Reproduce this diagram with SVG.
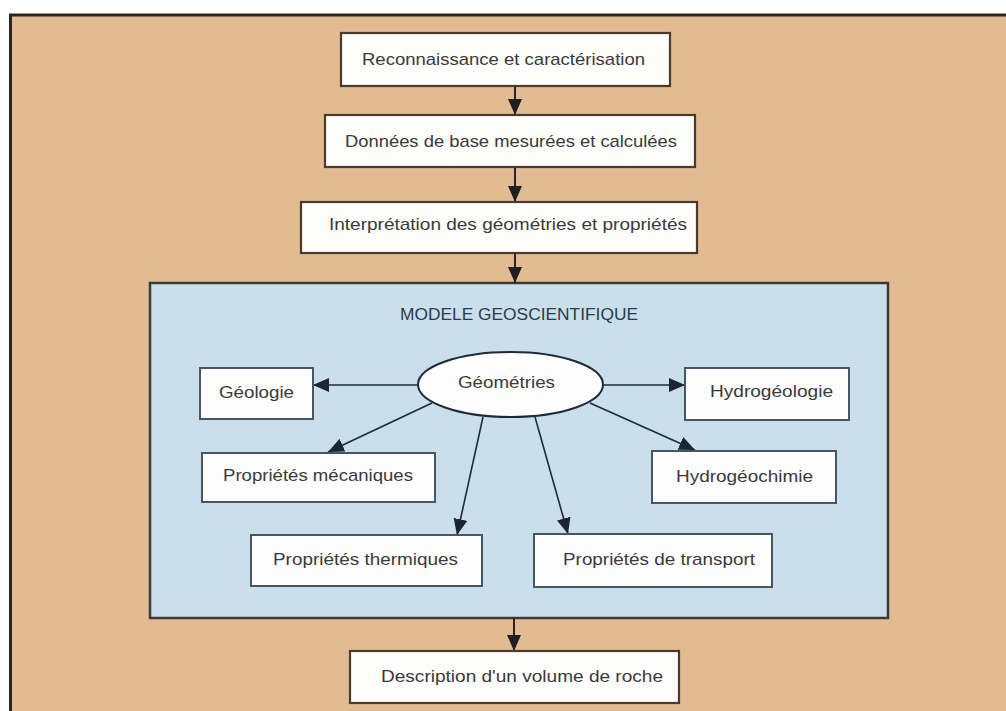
<svg xmlns="http://www.w3.org/2000/svg" width="1006" height="711" viewBox="0 0 1006 711">
<style>
.frame{fill:#e2bb93;stroke:#2b2622;stroke-width:3}
.model{fill:#c9dfec;stroke:#3d3a36;stroke-width:2.5}
.box{fill:#fdfdfc;stroke:#4a3a2e;stroke-width:2.2}
.ibox{fill:#fdfdfd;stroke:#4a5560;stroke-width:2}
.t{font-family:"Liberation Sans",Arial,sans-serif;font-size:17px;fill:#3a3a3a;text-anchor:middle}
.title{font-family:"Liberation Sans",Arial,sans-serif;font-size:16px;fill:#2e3a46;text-anchor:middle}
.c{stroke:#252525;stroke-width:2;fill:none}
.ci{stroke:#1f2a36;stroke-width:1.6;fill:none}
</style>
<defs>
<marker id="ah" markerUnits="userSpaceOnUse" markerWidth="16" markerHeight="14" refX="16" refY="7" orient="auto">
<path d="M0,0 L16,7 L0,14 z" fill="#1f1f1f"/>
</marker>
<marker id="ahi" markerUnits="userSpaceOnUse" markerWidth="16" markerHeight="14" refX="16" refY="7" orient="auto">
<path d="M0,0 L16,7 L0,14 z" fill="#1c2530"/>
</marker>
</defs>
<rect x="0" y="0" width="1006" height="711" fill="#ffffff"/>
<rect class="frame" x="10.5" y="15" width="1010" height="710"/>
<g id="model">
<rect class="model" x="150" y="283" width="738" height="335"/>
<text class="title" x="519" y="320" textLength="238" lengthAdjust="spacingAndGlyphs">MODELE GEOSCIENTIFIQUE</text>
</g>
<g id="connectors">
<line class="c" x1="515" y1="86" x2="515" y2="115" marker-end="url(#ah)"/>
<line class="c" x1="515" y1="167" x2="515" y2="202" marker-end="url(#ah)"/>
<line class="c" x1="515" y1="253" x2="515" y2="283" marker-end="url(#ah)"/>
<line class="c" x1="514" y1="618" x2="514" y2="651" marker-end="url(#ah)"/>
<line class="ci" x1="418" y1="385" x2="313" y2="385" marker-end="url(#ahi)"/>
<line class="ci" x1="603" y1="385" x2="685" y2="385" marker-end="url(#ahi)"/>
<line class="ci" x1="432" y1="403" x2="328" y2="452" marker-end="url(#ahi)"/>
<line class="ci" x1="590" y1="403" x2="695" y2="450" marker-end="url(#ahi)"/>
<line class="ci" x1="483" y1="417" x2="457" y2="535" marker-end="url(#ahi)"/>
<line class="ci" x1="535" y1="417" x2="568" y2="534" marker-end="url(#ahi)"/>
</g>
<g id="reconnaissance">
<rect class="box" x="341" y="33" width="329" height="53"/>
<text class="t" x="503.5" y="65" textLength="283" lengthAdjust="spacingAndGlyphs">Reconnaissance et caractérisation</text>
</g>
<g id="donnees">
<rect class="box" x="325" y="115" width="370" height="52"/>
<text class="t" x="511" y="147" textLength="332" lengthAdjust="spacingAndGlyphs">Données de base mesurées et calculées</text>
</g>
<g id="interpretation">
<rect class="box" x="301" y="202" width="396" height="51"/>
<text class="t" x="508" y="230" textLength="358" lengthAdjust="spacingAndGlyphs">Interprétation des géométries et propriétés</text>
</g>
<g id="geometries">
<ellipse cx="510.5" cy="384.5" rx="92.5" ry="32.5" fill="#fdfdfd" stroke="#1f2a36" stroke-width="2"/>
<text class="t" x="506.5" y="388" textLength="97" lengthAdjust="spacingAndGlyphs">Géométries</text>
</g>
<g id="geologie">
<rect class="ibox" x="200" y="368" width="113" height="51"/>
<text class="t" x="256.5" y="398" textLength="75" lengthAdjust="spacingAndGlyphs">Géologie</text>
</g>
<g id="hydrogeologie">
<rect class="ibox" x="685" y="368" width="164" height="52"/>
<text class="t" x="771.5" y="397" textLength="123" lengthAdjust="spacingAndGlyphs">Hydrogéologie</text>
</g>
<g id="mecaniques">
<rect class="ibox" x="202" y="453" width="233" height="49"/>
<text class="t" x="318" y="481" textLength="190" lengthAdjust="spacingAndGlyphs">Propriétés mécaniques</text>
</g>
<g id="hydrogeochimie">
<rect class="ibox" x="652" y="451" width="184" height="52"/>
<text class="t" x="744.5" y="482" textLength="137" lengthAdjust="spacingAndGlyphs">Hydrogéochimie</text>
</g>
<g id="thermiques">
<rect class="ibox" x="251" y="535" width="231" height="51"/>
<text class="t" x="365.5" y="565" textLength="185" lengthAdjust="spacingAndGlyphs">Propriétés thermiques</text>
</g>
<g id="transport">
<rect class="ibox" x="534" y="534" width="238" height="53"/>
<text class="t" x="659" y="565" textLength="192" lengthAdjust="spacingAndGlyphs">Propriétés de transport</text>
</g>
<g id="description">
<rect class="box" x="350" y="651" width="329" height="52"/>
<text class="t" x="522" y="682" textLength="282" lengthAdjust="spacingAndGlyphs">Description d'un volume de roche</text>
</g>
</svg>
